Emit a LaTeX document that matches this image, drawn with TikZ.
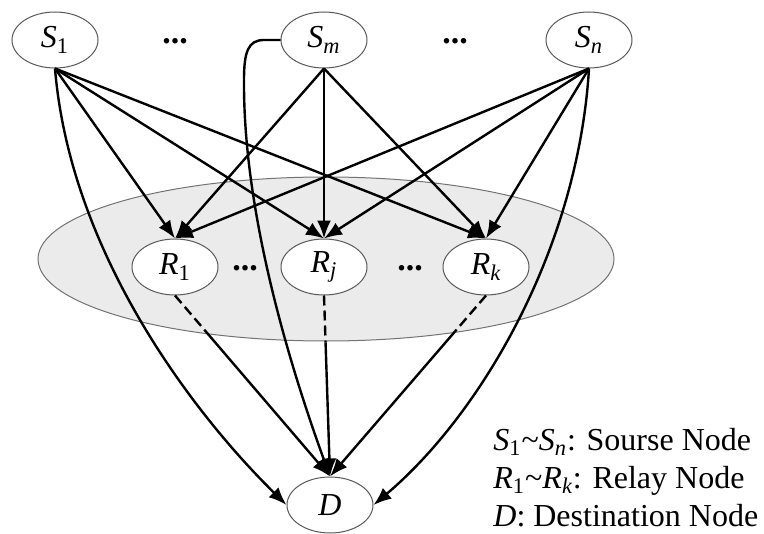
\documentclass[tikz,border=0pt]{standalone}
\usepackage{fontspec}
\setmainfont{Liberation Serif}
\usetikzlibrary{shapes.geometric,arrows.meta,calc}
\begin{document}
\begin{tikzpicture}[x=0.5pt,y=-0.5pt,
  nd/.style={ellipse,draw=black!65,line width=0.5pt,fill=white,minimum width=43pt,minimum height=28pt,inner sep=0pt,font=\fontsize{16}{18}\selectfont},
  conn/.style={line width=1.2pt,-{Latex[length=9pt,width=7pt]}},
  dashpart/.style={line width=1.2pt,dash pattern=on 5pt off 2.5pt},
  dotsty/.style={font=\fontsize{17}{17}\selectfont\bfseries,inner sep=0pt},
  leg/.style={anchor=base west,inner sep=0pt,font=\fontsize{16}{18}\selectfont}]
\useasboundingbox (0,0) rectangle (764,534);
% group ellipse
\node[ellipse,draw=black!55,fill=black!8,line width=0.5pt,minimum width=288pt,minimum height=82pt,inner sep=0pt] (grp) at (326,259) {};
% nodes
\node[nd] (S1) at (55,40) {\textit{S}\textsubscript{1}};
\node[nd] (Sm) at (324,40) {\textit{S\textsubscript{m}}};
\node[nd] (Sn) at (589,40) {\textit{S\textsubscript{n}}};
\node[nd] (R1) at (175,267) {\textit{R}\textsubscript{1}};
\node[nd] (Rj) at (324,267) {\textit{R\textsubscript{j}}};
\node[nd] (Rk) at (486,267) {\textit{R\textsubscript{k}}};
\node[nd] (D) at (330,505) {\textit{D}};
% dots
\node[dotsty] (dt1) at (175,41) {...};
\node[dotsty] (dt2) at (455,41) {...};
\node[dotsty] (dt3) at (245,268) {...};
\node[dotsty] (dt4) at (410,268) {...};
% source to relay
\foreach \s in {S1,Sm,Sn}{
  \foreach \r in {R1,Rj,Rk}{
    \draw[conn] (\s.south) -- (\r.north);
  }
}
% direct source to destination
\draw[conn] (S1.south) .. controls (70,250) and (190,410) .. (D.west);
\draw[conn] (Sn.south) .. controls (578,250) and (480,415) .. (D.east);
\draw[conn] (Sm.west) -- (264,40) .. controls (248,40) and (244,52) .. (244,80) .. controls (243,220) and (295,380) .. (D.north);
% relay to destination
\draw[dashpart] (R1.south) -- ($(R1.south)!0.21!(D.north)$) coordinate (r1c);
\draw[conn] (r1c) -- (D.north);
\draw[dashpart] (Rj.south) -- ($(Rj.south)!0.26!(D.north)$) coordinate (rjc);
\draw[conn] (rjc) -- (D.north);
\draw[dashpart] (Rk.south) -- ($(Rk.south)!0.2!(D.north)$) coordinate (rkc);
\draw[conn] (rkc) -- (D.north);
% legend
\node[leg] (L1) at (493,450) {\textit{S}\textsubscript{1}\textasciitilde\textit{S\textsubscript{n}}: Sourse Node};
\node[leg] (L2) at (493,488) {\textit{R}\textsubscript{1}\textasciitilde\textit{R\textsubscript{k}}: Relay Node};
\node[leg] (L3) at (493,526) {\textit{D}: Destination Node};
\end{tikzpicture}
\end{document}
